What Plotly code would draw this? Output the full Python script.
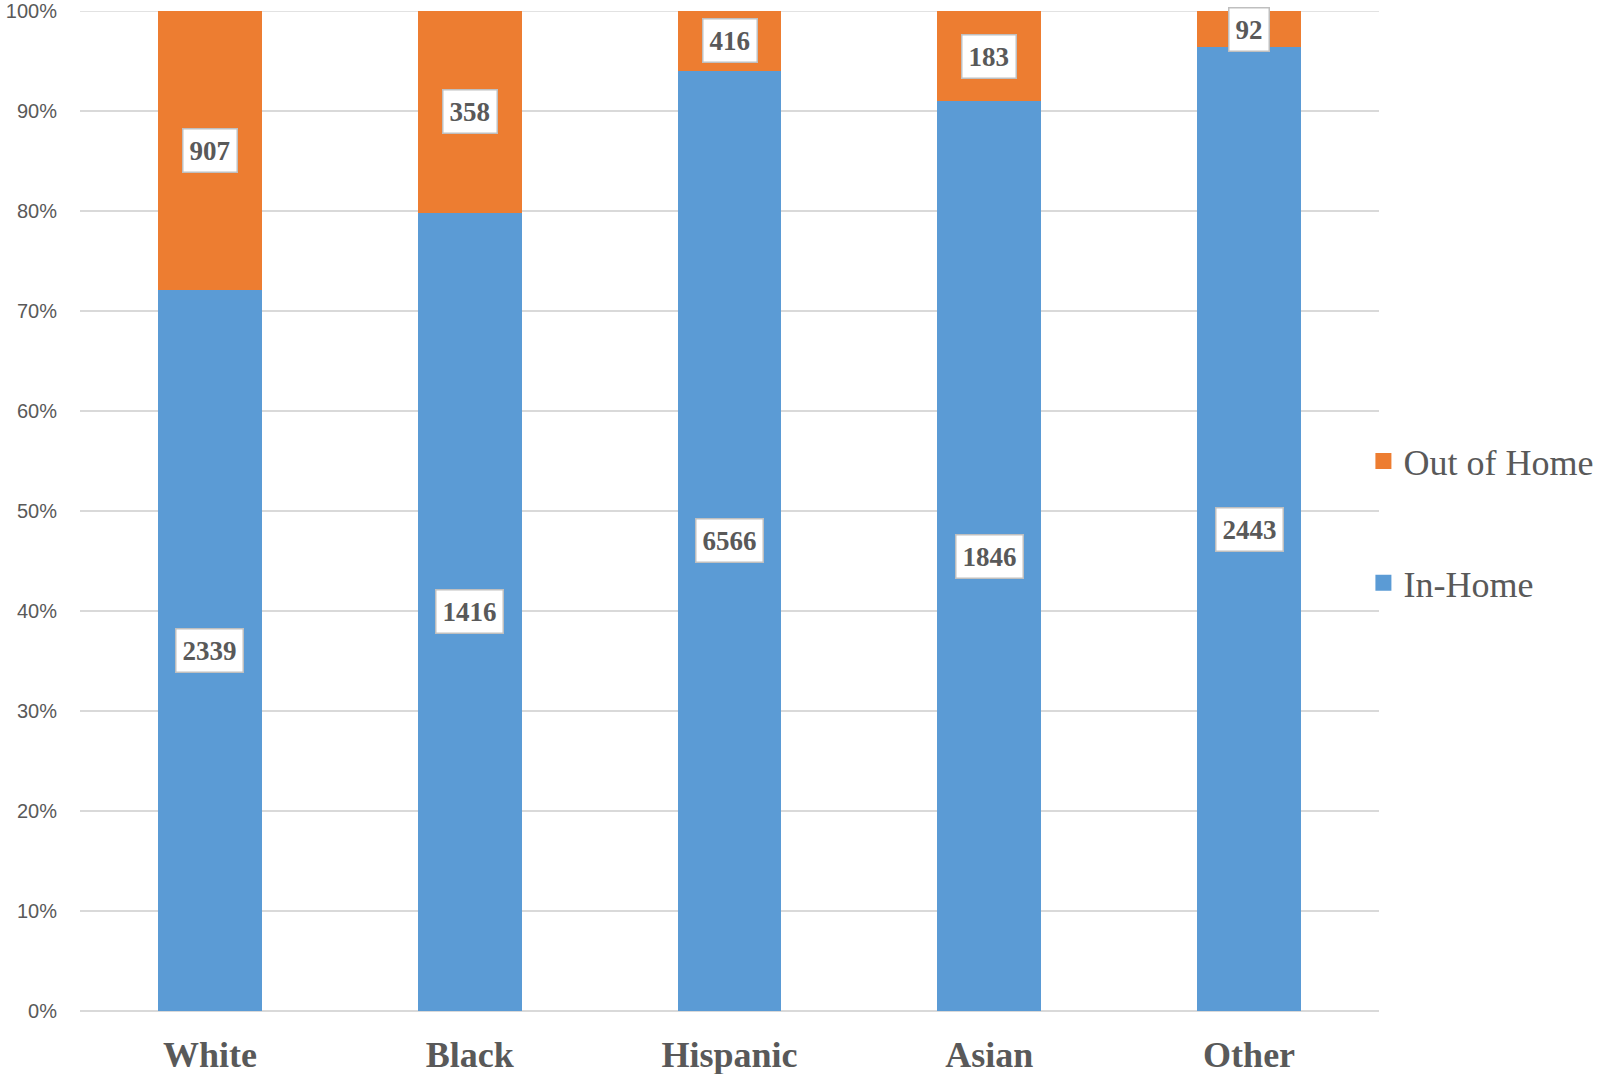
import plotly.graph_objects as go

categories = ["White", "Black", "Hispanic", "Asian", "Other"]
in_home = [2339, 1416, 6566, 1846, 2443]
out_of_home = [907, 358, 416, 183, 92]

BLUE = "#5B9BD5"
ORANGE = "#ED7D31"
GRAY = "#595959"
GRID = "#D9D9D9"

fig = go.Figure()
fig.add_trace(go.Bar(x=categories, y=in_home, name="In-Home", marker_color=BLUE,
                     marker_line_width=0, showlegend=False))
fig.add_trace(go.Bar(x=categories, y=out_of_home, name="Out of Home", marker_color=ORANGE,
                     marker_line_width=0, showlegend=False))

# legend entries
fig.add_trace(go.Scatter(x=[None], y=[None], mode="markers", name="Out of Home",
                         marker=dict(symbol="square", size=19, color=ORANGE),
                         legendgroup="a"))
fig.add_trace(go.Scatter(x=[None], y=[None], mode="markers", name="In-Home",
                         marker=dict(symbol="square", size=19, color=BLUE),
                         legendgroup="b"))

annotations = []
for c, a, b in zip(categories, in_home, out_of_home):
    tot = a + b
    pa = a / tot * 100
    for val, ypos in ((a, pa / 2), (b, pa + (100 - pa) / 2)):
        annotations.append(dict(
            x=c, y=ypos, xref="x", yref="y", text=str(val), showarrow=False,
            font=dict(family="Liberation Serif", size=27, color=GRAY, weight="bold"),
            bgcolor="white", bordercolor="#BFBFBF", borderwidth=1.5, borderpad=6,
        ))

fig.update_layout(
    barmode="stack",
    barnorm="percent",
    bargap=0.6,
    width=1598, height=1074,
    margin=dict(l=80, r=219, t=11, b=63, autoexpand=False),
    plot_bgcolor="white", paper_bgcolor="white",
    annotations=annotations,
    shapes=[dict(type="line", xref="paper", yref="y", x0=0, x1=1, y0=100, y1=100,
                 line=dict(color=GRID, width=1.5), layer="below")],
    legend=dict(x=0.988, xanchor="left", y=0.489, yanchor="middle",
                font=dict(family="Liberation Serif", size=36, color=GRAY),
                traceorder="grouped", tracegroupgap=72, itemsizing="trace",
                bgcolor="rgba(0,0,0,0)"),
    xaxis=dict(showline=False, showgrid=False, ticks="", automargin=False,
               tickfont=dict(family="Liberation Serif", size=36, color=GRAY, weight="bold"),
               ticklabelstandoff=19),
    yaxis=dict(range=[0, 100], dtick=10, ticksuffix="%", showgrid=True,
               gridcolor=GRID, gridwidth=1.5, zeroline=True, zerolinecolor=GRID,
               zerolinewidth=1.5, showline=False, ticks="", automargin=False,
               ticklabeloverflow="allow",
               tickfont=dict(family="Liberation Sans", size=20, color=GRAY),
               ticklabelstandoff=22),
)

fig.write_html(
    "out.html",
    config={"displayModeBar": False},
    post_script="document.body.style.margin='0';document.body.style.overflow='hidden';",
)
